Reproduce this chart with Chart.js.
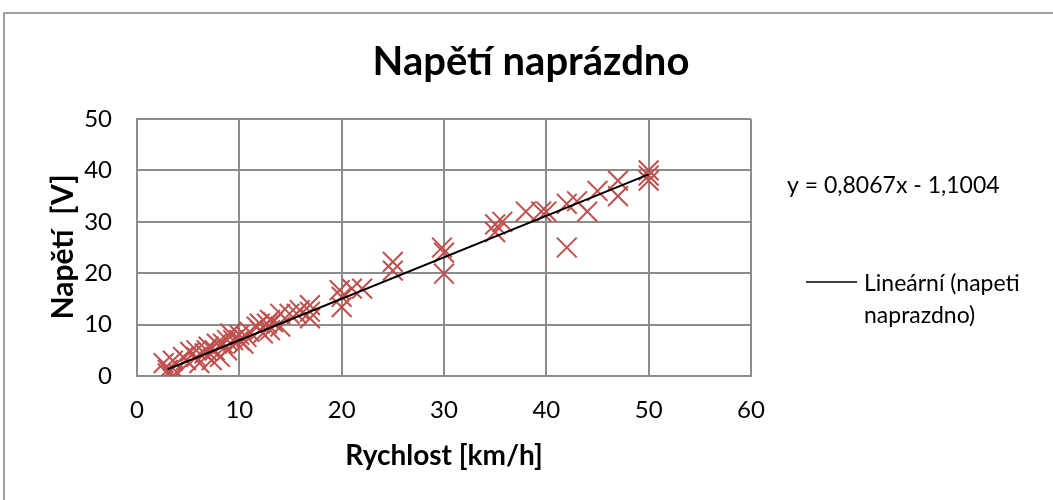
<!DOCTYPE html>
<html>
<head>
<meta charset="utf-8">
<script src="https://cdn.jsdelivr.net/npm/chart.js@4"></script>
<style>
  body { margin: 0; background: #fff; }
  #wrap { width: 1053px; height: 500px; position: relative; }
</style>
</head>
<body>
<div id="wrap"><canvas id="napeti"></canvas></div>
<script>

// rychlost [km/h]
var speedValues = [
  2.6, 3, 3, 3.5, 3.5, 4, 4.5, 4.8, 5.2, 5.8,
  5.8, 6.1, 6.6, 6.8, 7, 7.3, 7.6, 7.8, 8.1, 8.4,
  8.8, 8.8, 9.1, 9.4, 10, 10, 10.4, 10.7, 11, 11.7,
  12, 12, 12.3, 12.7, 13, 13, 13.3, 14, 14, 14.9,
  15.6, 15.9, 16.9, 16.9, 16.9, 19.8, 20, 20, 21, 22,
  25, 25, 29.8, 30, 30, 35, 35, 35.7, 38, 39.5,
  40, 42, 42, 43, 44, 45, 47, 47, 50, 50,
  50
];

// napeti [V]
var voltValues = [
  2.5, 1.2, 0.5, 0, 3, 0.5, 3.7, 3.1, 4.7, 5,
  3.7, 2.5, 4.4, 5, 5.7, 3.1, 5, 6.3, 3.7, 6.3,
  5, 7, 8.3, 7, 7, 8, 6.3, 7.6, 8.6, 9.6,
  10.2, 8.9, 8.3, 10.2, 10.9, 8.9, 10.5, 12.1, 9.6, 12.1,
  12.1, 12.8, 13.8, 12.5, 11.2, 16.7, 15.4, 13.4, 17, 17,
  22.2, 20.5, 25, 24, 19.9, 29.5, 28, 30, 32, 32,
  32, 33.5, 25, 34, 32, 36, 38, 35, 38, 39,
  40
];

// linearni trend z Excelu
var trendSlope = 0.8067;
var trendIntercept = -1.1004;
var trendX = [3, 50];

var xTicks = [0, 10, 20, 30, 40, 50, 60];
var yTicks = [0, 10, 20, 30, 40, 50];

var chartTitle = "Napětí naprázdno";
var yTitle = "Napětí  [V]";
var equationText = "y = 0,8067x - 1,1004";
var legendLines = ["Lineární (napeti", "naprazdno)"];

var FONT = "Lato, 'Open Sans', sans-serif";

var points = speedValues.map(function (x, i) { return { x: x, y: voltValues[i] }; });
var trendPoints = trendX.map(function (x) { return { x: x, y: trendSlope * x + trendIntercept }; });

// ramecek, nadpis, popis osy y, rovnice a legenda
var extras = {
  id: "extras",
  beforeDraw: function (chart) {
    var ctx = chart.ctx;
    ctx.save();
    ctx.strokeStyle = "#a0a0a0";
    ctx.lineWidth = 2;
    ctx.strokeRect(4, 13, 1200, 600);
    ctx.restore();
  },
  afterDraw: function (chart) {
    var ctx = chart.ctx;
    ctx.save();
    ctx.fillStyle = "#000";
    ctx.textBaseline = "middle";

    ctx.textAlign = "center";
    ctx.font = "bold 40px " + FONT;
    ctx.fillText(chartTitle, 531, 62);

    ctx.save();
    ctx.translate(63, 247);
    ctx.rotate(-Math.PI / 2);
    ctx.font = "bold 30px " + FONT;
    ctx.fillText(yTitle, 0, 0);
    ctx.restore();

    ctx.textAlign = "left";
    ctx.font = "23px " + FONT;
    ctx.fillText(equationText, 787, 186);

    ctx.strokeStyle = "#000";
    ctx.lineWidth = 1.5;
    ctx.beginPath();
    ctx.moveTo(806, 282);
    ctx.lineTo(857, 282);
    ctx.stroke();
    ctx.fillText(legendLines[0], 864, 284);
    ctx.fillText(legendLines[1], 864, 316);
    ctx.restore();
  }
};

new Chart("napeti", {
  type: "scatter",
  data: {
    datasets: [{
      type: "line",
      label: "Lineární (napeti naprazdno)",
      data: trendPoints,
      borderColor: "#000",
      borderWidth: 2,
      pointRadius: 0,
      fill: false
    }, {
      label: "napeti naprazdno",
      data: points,
      pointStyle: "crossRot",
      pointRadius: 14,
      borderColor: "#C0504D",
      backgroundColor: "#C0504D",
      pointBorderWidth: 2
    }]
  },
  options: {
    responsive: true,
    maintainAspectRatio: false,
    animation: false,
    devicePixelRatio: 1,
    layout: { padding: { top: 119, left: 0, right: 302, bottom: 0 } },
    plugins: {
      legend: { display: false },
      tooltip: { enabled: false },
      title: { display: false }
    },
    scales: {
      x: {
        type: "linear",
        min: 0,
        max: 60,
        afterBuildTicks: function (s) { s.ticks = xTicks.map(function (v) { return { value: v }; }); },
        afterFit: function (s) { s.height = 124; },
        grid: { color: "#8c8c8c", lineWidth: 2, drawTicks: false },
        border: { color: "#8c8c8c", width: 2 },
        ticks: { color: "#000", padding: 20, font: { family: FONT, size: 24 } },
        title: {
          display: true,
          text: "Rychlost [km/h]",
          color: "#000",
          font: { family: FONT, size: 28, weight: "bold" },
          padding: { top: 0, bottom: 27 }
        }
      },
      y: {
        type: "linear",
        min: 0,
        max: 50,
        afterBuildTicks: function (s) { s.ticks = yTicks.map(function (v) { return { value: v }; }); },
        afterFit: function (s) { s.width = 137; },
        grid: { color: "#8c8c8c", lineWidth: 2, drawTicks: false },
        border: { color: "#8c8c8c", width: 2 },
        ticks: { color: "#000", padding: 25, font: { family: FONT, size: 24 } }
      }
    }
  },
  plugins: [extras]
});
</script>
</body>
</html>
